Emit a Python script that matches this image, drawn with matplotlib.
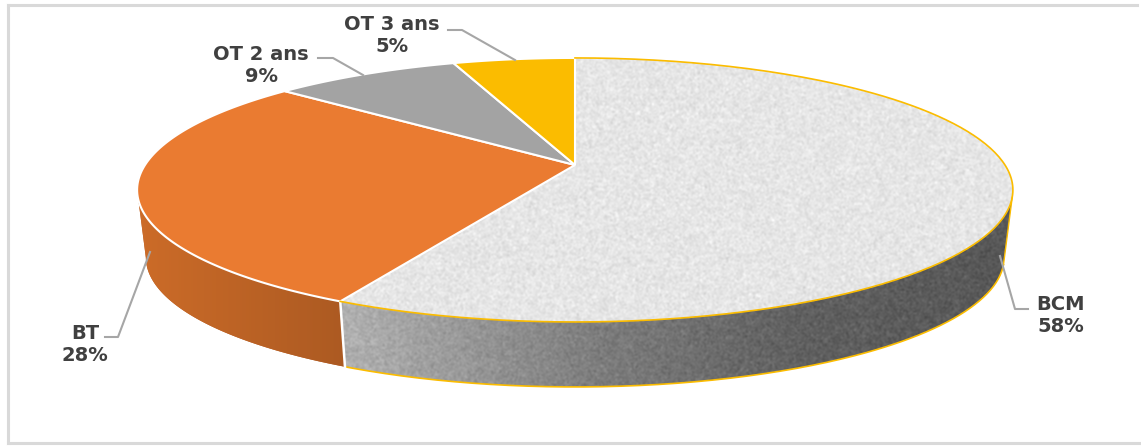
import numpy as np
import matplotlib
matplotlib.use('Agg')
import matplotlib.pyplot as plt
from matplotlib.patches import Polygon

labels = ['BCM', 'BT', 'OT 2 ans', 'OT 3 ans']
percents = [58, 28, 9, 5]            # as printed on the chart
values = [57.5, 28.8, 8.3, 5.4]      # slice sizes as measured on the picture
colors = ['#e8e8e6', '#ea7b31', '#a3a3a3', '#fbbc00']

W, H = 1141, 446

# pie geometry, in pixels (tilted disc, the apex is not the ellipse centre)
CX, CY = 575, 165
ELL_Y = 190
K = 0.189
A = 127.3
B = 430
SCALE = 0.98
DROP = 67.6


def top(theta):
    """clockwise angle from 12 o'clock -> point on the top face"""
    w = 1 + K * np.cos(theta)
    return CX + B * np.sin(theta) / w, CY - A * np.cos(theta) / w


def bottom(theta):
    x, y = top(theta)
    return CX + SCALE * (x - CX), ELL_Y + SCALE * (y - ELL_Y) + DROP


def grain(sigma):
    """soft speckle used for the stone texture"""
    rng = np.random.default_rng(3)
    n = rng.normal(size=(H, W))
    for i in range(3):
        n = (n + np.roll(n, 1, 0) + np.roll(n, 1, 1) + np.roll(np.roll(n, 1, 0), 1, 1)) / 4
    return n / n.std() * sigma


def textured(ax, poly, grey):
    """fill the polygon with a grey image (2d array) clipped to it"""
    img = np.clip(np.dstack([grey, grey, grey]), 0, 255).astype(np.uint8)
    im = ax.imshow(img, extent=(0, W, H, 0), aspect='auto', interpolation='bilinear', zorder=2)
    patch = Polygon(poly, closed=True, transform=ax.transData, fc='none', ec='none')
    ax.add_patch(patch)
    im.set_clip_path(patch)


fig = plt.figure(figsize=(W / 100, H / 100), dpi=100)
ax = fig.add_axes([0, 0, 1, 1])
ax.set_xlim(0, W)
ax.set_ylim(H, 0)
ax.axis('off')

# chart frame
ax.plot([8, 8], [5, 443], color='#d9d9d9', lw=2.2, zorder=1)
ax.plot([8, 1137], [5, 5], color='#d9d9d9', lw=2.2, zorder=1)
ax.plot([8, W], [443, 443], color='#d9d9d9', lw=2.2, zorder=1)

fracs = np.cumsum([0] + values) / sum(values) * 2 * np.pi
xx = np.arange(W)[None, :].repeat(H, 0)

# side walls
t = np.linspace(np.radians(104), fracs[1], 200)
side = np.column_stack([np.r_[top(t)[0], bottom(t)[0][::-1]], np.r_[top(t)[1], bottom(t)[1][::-1]]])
shade = np.interp(xx, [345, 600, 800, 1005], [176, 125, 96, 88])
textured(ax, side, shade + grain(4.5))
ax.plot(*bottom(t), color='#fbbc00', lw=1.2, zorder=3)
ax.plot([top(t)[0][0], bottom(t)[0][0]], [top(t)[1][0], bottom(t)[1][0]], color='#fbbc00', lw=1, zorder=3)

t = np.linspace(fracs[1], np.radians(259), 120)
side2 = np.column_stack([np.r_[top(t)[0], bottom(t)[0][::-1]], np.r_[top(t)[1], bottom(t)[1][::-1]]])
ax.fill(side2[:, 0], side2[:, 1], color='#bd6329', lw=0, zorder=2)
shade_r = np.interp(xx, [145, 345], [203, 172])
shade_g = np.interp(xx, [145, 345], [107, 90])
shade_b = np.interp(xx, [145, 345], [40, 34])
im = ax.imshow(np.dstack([shade_r, shade_g, shade_b]).astype(np.uint8), extent=(0, W, H, 0),
               aspect='auto', zorder=2.1)
patch = Polygon(side2, closed=True, transform=ax.transData, fc='none', ec='none')
ax.add_patch(patch)
im.set_clip_path(patch)

# seam between the two side walls
ax.plot(*zip(top(fracs[1]), bottom(fracs[1])), color='white', lw=1.8, zorder=3)

# top face
for i in range(len(values)):
    t = np.linspace(fracs[i], fracs[i + 1], 200)
    x, y = top(t)
    poly = np.column_stack([np.r_[CX, x], np.r_[CY, y]])
    if i == 0:
        textured(ax, poly, 230 + grain(4.5))
        ax.plot(x, y, color='#fbbc00', lw=1.2, zorder=4)
    else:
        ax.add_patch(Polygon(poly, closed=True, fc=colors[i], ec='white', lw=1.5, zorder=3))

# leader lines, then the labels
leaders = [[(1000, 256), (1015, 309), (1028, 309)],
           [(150, 252), (118, 337), (105, 337)],
           [(363, 75), (333, 58), (318, 58)],
           [(515, 60), (462, 30), (448, 30)]]
label_xy = [(1061, 315.5), (85, 344.5), (261, 65.5), (392, 36)]
for i in range(len(values)):
    lx, ly = zip(*leaders[i])
    ax.plot(lx, ly, color='#a6a6a6', lw=1.5, zorder=5)
    ax.text(label_xy[i][0], label_xy[i][1], labels[i] + '\n' + str(percents[i]) + '%',
            ha='center', va='center', fontsize=14, fontweight='bold', color='#404040',
            linespacing=1.2, zorder=6)

fig.savefig('out.png', dpi=100)
